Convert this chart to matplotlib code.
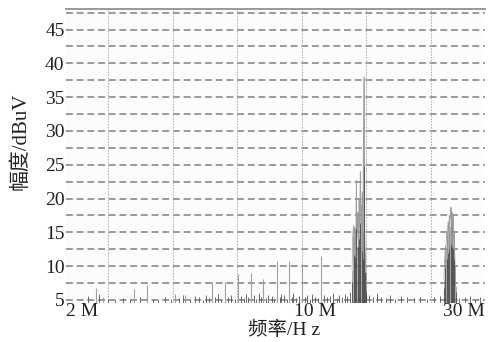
import matplotlib
matplotlib.use('Agg')
import matplotlib.pyplot as plt
from matplotlib.ticker import FixedLocator, NullLocator

# frequencies in MHz, amplitudes in dBuV
noise_freq = [2.30, 2.47, 2.62, 2.75, 2.90, 3.02, 3.22, 3.50, 3.62, 3.80, 3.95,
              4.15, 4.25, 4.45, 4.60, 4.72, 4.85, 4.95, 5.05, 5.25, 5.35, 5.45,
              5.70, 5.80, 5.95, 6.20, 6.30, 6.40, 6.50, 6.75, 6.85, 6.95, 7.05,
              7.30, 7.40, 7.55, 7.65, 7.95, 8.05, 8.20, 8.35, 8.60, 8.70, 8.85,
              9.00, 9.35, 9.50, 9.65, 9.80, 10.0, 10.2, 10.6, 10.8, 11.0, 11.2,
              11.5, 11.7, 11.9, 12.1, 12.3, 12.5, 14.2, 14.5, 14.9, 15.3, 15.8,
              16.2, 16.8, 17.4, 18.1, 18.9, 19.7, 20.6, 21.5, 22.4, 25.4, 26.3,
              27.2, 28.1, 29.0]
noise_amp = [5.6, 5.9, 5.2, 5.0, 5.3, 5.1, 5.4, 5.2, 5.0, 5.5, 5.1,
             5.3, 5.7, 5.2, 5.6, 5.4, 5.0, 5.8, 5.3, 5.5, 5.9, 5.2,
             5.4, 5.8, 5.1, 5.6, 5.3, 5.9, 5.4, 5.7, 5.2, 6.0, 5.5,
             5.3, 5.8, 5.6, 5.1, 5.4, 5.9, 5.7, 5.2, 5.5, 6.1, 5.3,
             5.6, 5.4, 5.8, 5.2, 5.9, 5.5, 5.3, 5.7, 5.4, 5.6, 6.0,
             5.3, 5.8, 5.5, 5.9, 5.6, 6.2, 5.8, 5.4, 6.0, 5.5, 5.3,
             5.7, 5.2, 5.6, 5.4, 5.3, 5.5, 5.2, 5.4, 5.6, 5.3, 5.5,
             5.6, 5.2, 5.4]

spike_freq = [2.43, 2.54, 3.10, 3.38, 4.05, 4.32, 5.14, 5.59, 6.08, 6.62,
              7.16, 7.83, 8.46, 9.20, 10.4]
spike_amp = [6.8, 5.4, 6.6, 7.2, 5.9, 5.8, 7.6, 7.6, 8.8, 9.0,
             8.1, 10.7, 10.8, 10.0, 11.5]

band1_freq = [12.70, 12.76, 12.82, 12.88, 12.94, 13.00, 13.05, 13.10, 13.16,
              13.22, 13.28, 13.34, 13.39, 13.44, 13.50, 13.56, 13.62, 13.66,
              13.70, 13.76, 13.82, 13.88, 13.94]
band1_amp = [9.5, 14.5, 16.0, 12.0, 15.5, 11.0, 22.7, 13.0, 18.0,
             14.0, 20.0, 16.0, 24.0, 19.0, 17.0, 21.0, 15.0, 28.0,
             38.0, 17.0, 12.0, 9.0, 7.0]

band2_freq = [23.00, 23.10, 23.20, 23.30, 23.40, 23.50, 23.60, 23.70, 23.80,
              23.90, 24.00, 24.10, 24.20, 24.30, 24.40, 24.50, 24.60, 24.70,
              24.80]
band2_amp = [8.0, 11.0, 13.0, 12.5, 15.0, 14.0, 16.5, 15.0, 17.5,
             16.0, 18.8, 17.0, 18.0, 16.5, 17.5, 14.0, 15.0, 10.0, 7.0]

vgrid_freq = [2.62, 4.00, 6.04, 9.20, 13.92, 21.2]
xtick_freq = [2, 10, 30]
xtick_labels = ['2 M', '10 M', '30 M']
ytick_vals = [5, 10, 15, 20, 25, 30, 35, 40, 45]

SERIF = ['Liberation Serif', 'Noto Sans CJK SC']
BASE = 4.6

fig = plt.figure(figsize=(4.92, 3.42), dpi=100)
ax = fig.add_axes([0.134, 0.115, 0.852, 0.860])
ax.set_facecolor('#fcfcfc')
ax.set_xscale('log')
ax.set_xlim(2e6, 3e7)
ax.set_ylim(BASE, 48.1)

# horizontal dashed grid every 2.5
for i in range(18):
    ax.axhline(5 + 2.5 * i, color='#808080', lw=1.1, ls=(0, (4.5, 2.5)), zorder=1)
for f in vgrid_freq:
    ax.axvline(f * 1e6, color='#a8a8a8', lw=0.7, ls=(0, (1.5, 1.5)), zorder=1)

ax.vlines([f * 1e6 for f in noise_freq], BASE, noise_amp, color='#555555', lw=0.6, zorder=2)
ax.vlines([f * 1e6 for f in spike_freq], BASE, spike_amp, color='#a0a0a0', lw=0.8, zorder=2)

# clusters: gray zigzag with darker sticks
b1 = [f * 1e6 for f in band1_freq]
b2 = [f * 1e6 for f in band2_freq]
ax.vlines(b1, BASE, band1_amp, color='#8a8a8a', lw=0.5, zorder=3)
ax.vlines(b2, BASE, band2_amp, color='#8a8a8a', lw=0.5, zorder=3)
ax.vlines(b1[::2], BASE, [a * 0.6 + 2 for a in band1_amp[::2]], color='#3a3a3a', lw=0.5, zorder=4)
ax.vlines(b2[::2], BASE, [a * 0.6 + 2 for a in band2_amp[::2]], color='#3a3a3a', lw=0.5, zorder=4)
ax.plot(b1, band1_amp, color='#9a9a9a', lw=0.5, zorder=3)
ax.plot(b2, band2_amp, color='#9a9a9a', lw=0.5, zorder=3)

for s in ['left', 'right', 'bottom']:
    ax.spines[s].set_visible(False)
ax.spines['top'].set_color('#999999')
ax.spines['top'].set_linewidth(1.4)

ax.xaxis.set_major_locator(FixedLocator([f * 1e6 for f in xtick_freq]))
ax.xaxis.set_minor_locator(NullLocator())
ax.set_xticklabels(xtick_labels, family=SERIF, fontsize=14)
ax.set_yticks(ytick_vals)
ax.set_yticklabels([str(v) for v in ytick_vals], family=SERIF, fontsize=14)
ax.tick_params(axis='both', length=0, colors='#222222')
ax.tick_params(axis='x', pad=0)
ax.tick_params(axis='y', pad=1)
xl = ax.get_xticklabels()
xl[0].set_ha('left')
xl[-1].set_ha('right')

ax.set_xlabel('频率/H z', family=SERIF, fontsize=14, color='#222222')
ax.xaxis.set_label_coords(0.52, -0.062)
ax.set_ylabel('幅度/dBuV', family=SERIF, fontsize=15, color='#222222')
ax.yaxis.set_label_coords(-0.085, 0.55)

fig.savefig('out.png', dpi=100)
